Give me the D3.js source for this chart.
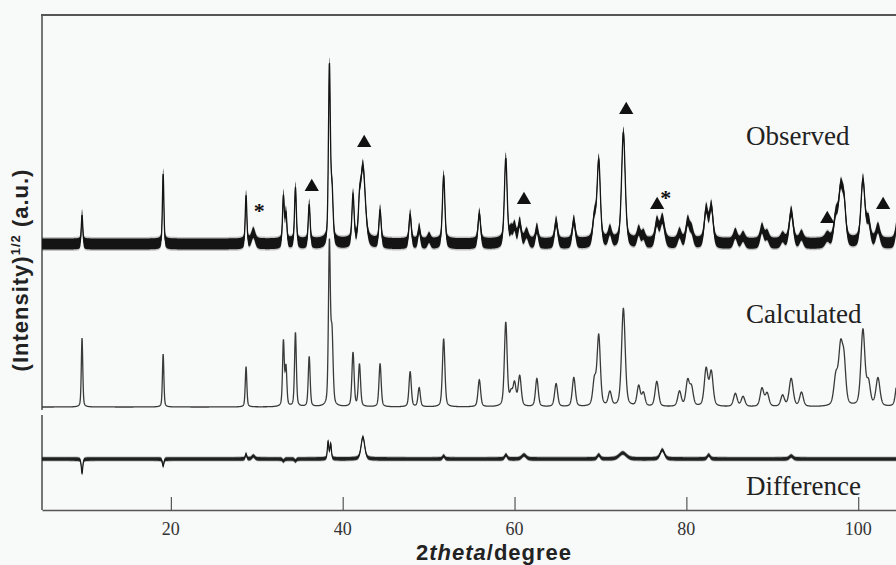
<!DOCTYPE html>
<html><head><meta charset="utf-8">
<script src="https://cdn.jsdelivr.net/npm/d3@7"></script>
<style>
html,body{margin:0;padding:0;background:#f8f9f9;}
svg{display:block;}
</style></head><body>
<svg id="c" width="896" height="565"></svg>
<script>
// ---------- data ----------
const xTicks = [20, 40, 60, 80, 100];
const xDomain = [5, 104.4];
// reflections: position (2theta), calculated and observed sqrt-intensity (a.u.), FWHM (deg)
const peakPos    = [9.66, 19.1, 28.75, 29.6, 33.1, 33.4, 34.5, 36.1, 38.45, 38.75, 41.2, 41.95, 42.35, 44.35, 47.85, 48.9, 50.05, 51.75, 55.9, 58.98, 59.6, 60.0, 60.6, 61.4, 62.6, 64.84, 66.9, 69.3, 69.8, 71.1, 72.67, 74.45, 75.0, 76.56, 77.2, 79.2, 80.15, 80.6, 82.3, 82.9, 85.7, 86.6, 88.8, 89.4, 91.2, 92.2, 93.4, 96.4, 97.4, 97.95, 98.35, 100.55, 101.2, 102.3, 104.6];
const calcHeight = [69, 53, 40, 0, 65, 38, 74, 50, 160, 70, 54, 42, 0, 43, 35, 19, 0, 68, 27, 84, 12, 22, 30, 0, 28, 23, 29, 25, 70, 14, 98, 20, 13, 25, 0, 15, 25, 18, 37, 34, 13, 10, 18, 13, 11, 28, 14, 0, 28, 55, 40, 76, 22, 28, 30];
const obsHeight  = [29, 70, 48, 11, 47, 29, 56, 39, 175, 50, 47, 25, 77, 33, 29, 15, 6, 68, 30, 85, 10, 15, 20, 10, 15, 22, 23, 25, 82, 12, 111, 12, 8, 20, 24, 10, 21, 12, 33, 36, 10, 7, 15, 8, 6, 32, 8, 6, 26, 49, 36, 63, 20, 15, 25];
const peakWidth  = [0.2, 0.2, 0.22, 0.5, 0.24, 0.24, 0.25, 0.26, 0.26, 0.3, 0.3, 0.3, 0.65, 0.3, 0.32, 0.32, 0.4, 0.34, 0.36, 0.38, 0.4, 0.4, 0.42, 0.5, 0.38, 0.42, 0.42, 0.45, 0.45, 0.45, 0.5, 0.45, 0.45, 0.48, 0.6, 0.48, 0.48, 0.48, 0.5, 0.5, 0.5, 0.5, 0.5, 0.5, 0.5, 0.55, 0.5, 0.6, 0.55, 0.55, 0.5, 0.55, 0.5, 0.55, 0.5];
// difference curve features
const diffPos   = [9.66, 19.1, 28.75, 29.6, 33.1, 34.5, 38.3, 38.6, 42.35, 51.75, 59.0, 61.1, 69.8, 72.6, 77.2, 82.6, 92.2];
const diffAmp   = [-14, -7, 5, 3, -2, -2, 17, 15, 22, 3, 4, 4, 4, 6, 9, 4, 3];
const diffWidth = [0.2, 0.2, 0.2, 0.4, 0.25, 0.25, 0.2, 0.2, 0.5, 0.3, 0.35, 0.6, 0.4, 1.0, 0.6, 0.4, 0.5];
// vertical offsets of the three traces (a.u.)
const obsBase = 266, calcBase = 103, diffBase = 51;
const obsNoise = 5.5, diffNoise = 1.8;
// phase markers (height above the observed baseline)
const trianglePos = [36.4, 42.5, 61.1, 73.0, 76.6, 96.4, 102.9];
const triangleVal = [57, 101, 44, 134, 39, 25, 39];
const starPos = [30.3, 77.6];
const starVal = [38, 51];
const traceLabels = ["Observed", "Calculated", "Difference"];
const labelVal = [365, 187, 15];

// ---------- chart ----------
const W = 896, H = 565;
const svg = d3.select("#c");
svg.append("rect").attr("width", W).attr("height", H).attr("fill", "#f8f9f9");

const x = d3.scaleLinear().domain(xDomain).range([42, 896]);
const y = d3.scaleLinear().domain([0, 495]).range([510, 15]);

function pv(t2) { return 0.4 / (1 + 4 * t2) + 0.6 * Math.exp(-4 * Math.LN2 * t2); }
function profile(xv, pos, amp, wid) {
  let s = 0;
  for (let i = 0; i < pos.length; i++) {
    const t = (xv - pos[i]) / wid[i];
    if (Math.abs(t) > 40) continue;
    s += amp[i] * pv(t * t);
  }
  return s;
}
const xs = d3.range(xDomain[0], xDomain[1] + 0.001, 0.02);
const calc = xs.map(v => ({ x: v, y: calcBase + profile(v, peakPos, calcHeight, peakWidth) }));
const obs = xs.map(v => ({ x: v, y: obsBase + profile(v, peakPos, obsHeight, peakWidth) }));
const diff = xs.map(v => ({ x: v, y: diffBase + profile(v, diffPos, diffAmp, diffWidth) }));

const frame = svg.append("g").attr("stroke", "#555").attr("fill", "none");
frame.append("line").attr("x1", 41).attr("x2", W).attr("y1", 15).attr("y2", 15).attr("stroke-width", 2);
frame.append("line").attr("x1", 42).attr("x2", 42).attr("y1", 15).attr("y2", 410).attr("stroke-width", 1.6);
frame.append("line").attr("x1", 42).attr("x2", 42).attr("y1", 415).attr("y2", 510).attr("stroke-width", 1.6);

// bottom axis (ticks point inward)
const ax = svg.append("g").attr("transform", "translate(0,510)")
  .call(d3.axisBottom(x).tickValues(xTicks).tickSize(-13).tickSizeOuter(0).tickFormat(""));
ax.select(".domain").attr("stroke", "#555").attr("stroke-width", 1.6);
ax.selectAll(".tick line").attr("stroke", "#555").attr("stroke-width", 1.2);
ax.selectAll(".tick text").remove();
svg.append("g").selectAll("text").data(xTicks).join("text")
  .attr("x", d => x(d)).attr("y", 535).attr("text-anchor", "middle")
  .attr("font-family", "'Liberation Serif','Times New Roman',serif")
  .attr("font-size", 18).attr("fill", "#333").text(d => d);

const line = d3.line().x(d => x(d.x)).y(d => y(d.y));
svg.append("path").datum(calc).attr("d", line).attr("fill", "none").attr("stroke", "#3a3a3a").attr("stroke-width", 1.3);

function band(data, h, color, op) {
  const ar = d3.area().x(d => x(d.x)).y0(d => y(d.y - h)).y1(d => y(d.y + h));
  svg.append("path").datum(data).attr("d", ar).attr("fill", color).attr("opacity", op);
}
band(diff, diffNoise + 0.8, "#222", 0.3);
band(diff, diffNoise, "#1a1a1a", 0.9);
svg.append("path").datum(diff).attr("d", line).attr("fill", "none").attr("stroke", "#1a1a1a").attr("stroke-width", 1.2);

band(obs, obsNoise + 1.5, "#222", 0.25);
band(obs, obsNoise, "#141414", 1);
svg.append("path").datum(obs).attr("d", line).attr("fill", "none").attr("stroke", "#141414").attr("stroke-width", 1.3);

// markers
svg.selectAll(".tri").data(trianglePos).join("path").attr("class", "tri")
  .attr("d", d3.symbol(d3.symbolTriangle, 88)())
  .attr("transform", (d, i) => `translate(${x(d)},${y(obsBase + triangleVal[i])})`)
  .attr("fill", "#111");
svg.selectAll(".star").data(starPos).join("text").attr("class", "star")
  .attr("x", d => x(d)).attr("y", (d, i) => y(obsBase + starVal[i]) + 12)
  .attr("text-anchor", "middle").attr("font-family", "'Liberation Serif',serif")
  .attr("font-weight", "bold").attr("font-size", 22).attr("fill", "#111").text("*");

// trace labels
svg.selectAll(".lab").data(traceLabels).join("text").attr("class", "lab")
  .attr("x", 746).attr("y", (d, i) => y(labelVal[i]))
  .attr("font-family", "'Liberation Serif','Times New Roman',serif")
  .attr("font-size", 27).attr("fill", "#222").text(d => d);

// axis titles
const xt = svg.append("text").attr("x", 494).attr("y", 560).attr("text-anchor", "middle")
  .attr("font-family", "'Liberation Sans',Arial,sans-serif").attr("font-weight", "bold")
  .attr("font-size", 22).attr("letter-spacing", 1).attr("fill", "#222");
xt.append("tspan").text("2");
xt.append("tspan").attr("font-style", "italic").text("theta");
xt.append("tspan").text("/degree");

const yt = svg.append("text").attr("transform", "translate(28,270) rotate(-90)").attr("text-anchor", "middle")
  .attr("font-family", "'Liberation Sans',Arial,sans-serif").attr("font-weight", "bold")
  .attr("font-size", 22).attr("letter-spacing", 1).attr("fill", "#222");
yt.append("tspan").text("(Intensity)");
yt.append("tspan").attr("font-size", 13).attr("dy", -8).text("1/2");
yt.append("tspan").attr("dy", 8).text(" (a.u.)");
</script>
</body></html>
